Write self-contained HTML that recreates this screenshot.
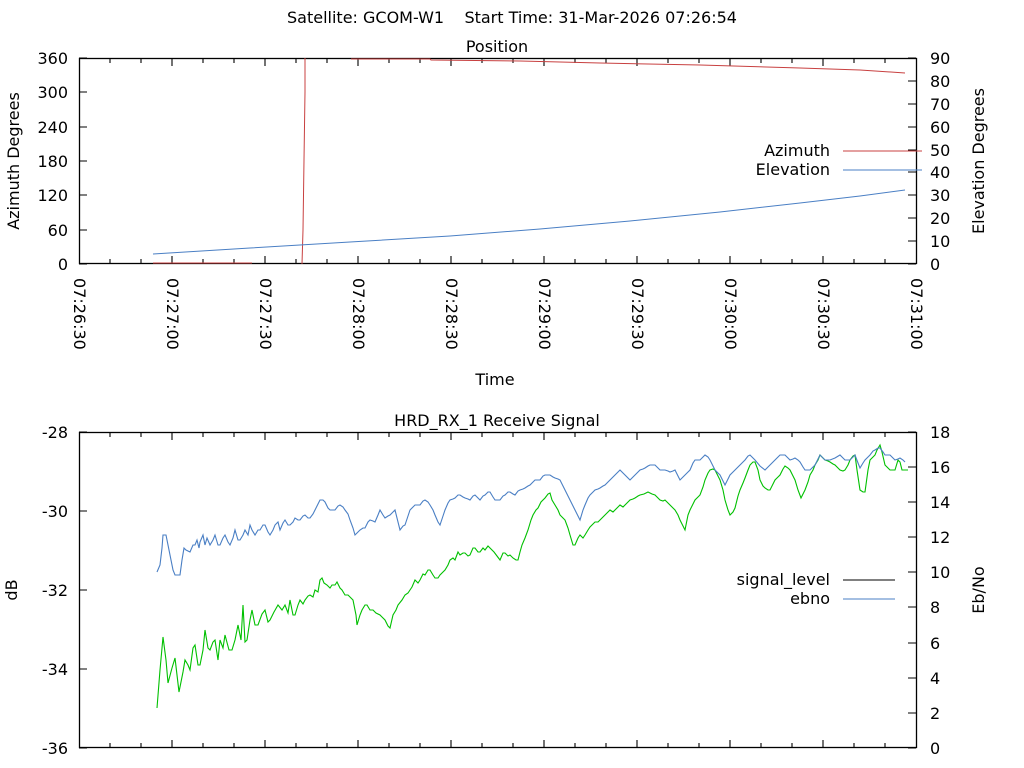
<!DOCTYPE html>
<html><head><meta charset="utf-8"><style>
body{margin:0;background:#fff}
svg{display:block}
text{font-family:"DejaVu Sans","Liberation Sans",sans-serif;font-size:16px;fill:#000}
</style></head><body>
<svg width="1024" height="768" viewBox="0 0 1024 768">
<text x="512" y="23" text-anchor="middle" xml:space="preserve" style="white-space:pre">Satellite: GCOM-W1    Start Time: 31-Mar-2026 07:26:54</text>
<text x="497" y="52" text-anchor="middle">Position</text>
<rect x="79.5" y="58.5" width="837" height="205" fill="none" stroke="#000" stroke-width="1.3"/>
<g stroke="#000" stroke-width="1.1">
<path d="M79 58h8M79 92h8M79 127h8M79 161h8M79 195h8M79 230h8M79 264h8"/>
<path d="M916 58h-8M916 81h-8M916 104h-8M916 127h-8M916 150h-8M916 172h-8M916 195h-8M916 218h-8M916 241h-8M916 264h-8"/>
<path d="M110 264v-5M141 264v-5M172 264v-8M203 264v-5M234 264v-5M265 264v-8M296 264v-5M327 264v-5M358 264v-8M389 264v-5M420 264v-5M451 264v-8M482 264v-5M513 264v-5M544 264v-8M575 264v-5M606 264v-5M637 264v-8M668 264v-5M699 264v-5M730 264v-8M761 264v-5M792 264v-5M823 264v-8M854 264v-5M885 264v-5"/>
<path d="M110 58v5M141 58v5M172 58v8M203 58v5M234 58v5M265 58v8M296 58v5M327 58v5M358 58v8M389 58v5M420 58v5M451 58v8M482 58v5M513 58v5M544 58v8M575 58v5M606 58v5M637 58v8M668 58v5M699 58v5M730 58v8M761 58v5M792 58v5M823 58v8M854 58v5M885 58v5"/>
</g>
<g text-anchor="end">
<text x="68" y="64">360</text><text x="68" y="98">300</text><text x="68" y="133">240</text><text x="68" y="167">180</text><text x="68" y="201">120</text><text x="68" y="236">60</text><text x="68" y="270">0</text>
</g>
<g>
<text x="930" y="64">90</text><text x="930" y="87">80</text><text x="930" y="110">70</text><text x="930" y="133">60</text><text x="930" y="156">50</text><text x="930" y="178">40</text><text x="930" y="201">30</text><text x="930" y="224">20</text><text x="930" y="247">10</text><text x="930" y="270">0</text>
</g>
<text transform="translate(19,161) rotate(-90)" text-anchor="middle">Azimuth Degrees</text>
<text transform="translate(984,161) rotate(-90)" text-anchor="middle">Elevation Degrees</text>
<g>
<text transform="translate(74,278) rotate(90)">07:26:30</text>
<text transform="translate(167,278) rotate(90)">07:27:00</text>
<text transform="translate(260,278) rotate(90)">07:27:30</text>
<text transform="translate(353,278) rotate(90)">07:28:00</text>
<text transform="translate(446,278) rotate(90)">07:28:30</text>
<text transform="translate(539,278) rotate(90)">07:29:00</text>
<text transform="translate(632,278) rotate(90)">07:29:30</text>
<text transform="translate(725,278) rotate(90)">07:30:00</text>
<text transform="translate(818,278) rotate(90)">07:30:30</text>
<text transform="translate(911,278) rotate(90)">07:31:00</text>
</g>
<text x="495" y="385" text-anchor="middle">Time</text>
<polyline fill="none" stroke="#c84040" stroke-width="1" points="153,263 252,263"/>
<polyline fill="none" stroke="#c84040" stroke-width="1" points="302,264 303,230 304,160 305,92 305,58"/>
<polyline fill="none" stroke="#c84040" stroke-width="1" points="351,59 430,59 431,60 520,61 600,63 700,65 800,68 860,70 905,73"/>
<polyline fill="none" stroke="#4a7fc4" stroke-width="1" points="153,254 250,248 350,242 450,236 540,229 630,221 720,212 800,203 860,196 905,190"/>
<text x="830" y="156" text-anchor="end">Azimuth</text>
<line x1="843" y1="151" x2="922" y2="151" stroke="#c84040" stroke-width="1"/>
<text x="830" y="175" text-anchor="end">Elevation</text>
<line x1="843" y1="170" x2="922" y2="170" stroke="#4a7fc4" stroke-width="1"/>
<text x="497" y="426" text-anchor="middle">HRD_RX_1 Receive Signal</text>
<rect x="79.5" y="432.5" width="837" height="315" fill="none" stroke="#000" stroke-width="1.3"/>
<g stroke="#000" stroke-width="1.1">
<path d="M79 432h8M79 511h8M79 590h8M79 669h8M79 748h8"/>
<path d="M916 432h-8M916 467h-8M916 502h-8M916 537h-8M916 572h-8M916 607h-8M916 643h-8M916 678h-8M916 713h-8M916 748h-8"/>
<path d="M110 748v-5M141 748v-5M172 748v-8M203 748v-5M234 748v-5M265 748v-8M296 748v-5M327 748v-5M358 748v-8M389 748v-5M420 748v-5M451 748v-8M482 748v-5M513 748v-5M544 748v-8M575 748v-5M606 748v-5M637 748v-8M668 748v-5M699 748v-5M730 748v-8M761 748v-5M792 748v-5M823 748v-8M854 748v-5M885 748v-5"/>
<path d="M110 432v5M141 432v5M172 432v8M203 432v5M234 432v5M265 432v8M296 432v5M327 432v5M358 432v8M389 432v5M420 432v5M451 432v8M482 432v5M513 432v5M544 432v8M575 432v5M606 432v5M637 432v8M668 432v5M699 432v5M730 432v8M761 432v5M792 432v5M823 432v8M854 432v5M885 432v5"/>
</g>
<g text-anchor="end">
<text x="68" y="438">-28</text><text x="68" y="517">-30</text><text x="68" y="596">-32</text><text x="68" y="675">-34</text><text x="68" y="754">-36</text>
</g>
<g>
<text x="930" y="438">18</text><text x="930" y="473">16</text><text x="930" y="508">14</text><text x="930" y="543">12</text><text x="930" y="578">10</text><text x="930" y="613">8</text><text x="930" y="649">6</text><text x="930" y="684">4</text><text x="930" y="719">2</text><text x="930" y="754">0</text>
</g>
<text transform="translate(17,590) rotate(-90)" text-anchor="middle">dB</text>
<text transform="translate(984,590) rotate(-90)" text-anchor="middle">Eb/No</text>
<polyline fill="none" stroke="#00c000" stroke-width="1.1" points="157,708 160,670 163,637 166,660 168,683 172,668 175,658 179,692 183,672 185,660 188,665 190,670 193,648 195,645 198,665 200,665 203,650 205,630 208,648 210,650 213,642 215,640 218,660 220,640 223,648 225,635 229,650 232,650 235,640 238,625 241,640 243,605 245,642 247,640 250,620 252,610 255,625 258,625 262,614 265,610 268,622 270,620 274,612 278,605 282,610 285,605 288,613 290,600 293,615 295,615 298,605 300,600 303,604 305,600 308,596 310,595 313,597 315,590 318,592 320,580 322,578 324,583 327,585 330,588 332,585 335,585 337,582 340,588 342,590 345,595 348,595 351,598 353,600 356,615 357,625 360,615 362,610 365,605 367,605 370,610 373,610 376,613 380,615 382,617 385,620 388,626 390,628 393,615 396,610 398,605 402,600 405,595 408,593 410,590 412,587 415,580 418,583 420,580 423,574 425,575 428,570 430,570 433,575 435,578 438,578 440,575 443,572 445,570 448,565 450,560 453,558 455,560 458,552 460,555 463,553 465,553 468,556 470,555 473,548 475,548 478,552 480,552 483,548 485,550 488,546 490,548 494,552 497,556 500,560 503,553 505,553 508,556 510,555 513,558 516,560 518,560 520,552 522,545 525,538 528,530 531,520 533,515 536,510 538,508 541,502 545,498 548,494 550,493 552,500 555,505 558,510 560,515 563,518 565,520 568,528 570,535 573,545 575,545 578,538 580,535 583,538 585,535 588,530 590,527 593,524 595,522 598,522 600,520 603,517 605,515 608,512 610,510 613,512 615,510 618,507 620,505 623,507 625,505 628,502 630,500 633,499 635,498 638,496 640,495 644,494 648,492 652,494 655,495 658,498 660,500 663,501 665,500 668,503 670,505 673,508 675,510 678,515 680,520 683,526 685,530 688,515 690,510 693,504 695,500 698,497 700,495 703,487 705,480 708,473 710,470 713,469 715,470 718,476 720,480 723,490 725,500 728,510 730,515 733,512 735,508 738,496 740,490 743,483 745,478 748,470 750,465 753,462 755,462 758,470 760,480 763,486 765,488 768,490 770,490 773,484 775,480 778,477 780,475 783,469 785,466 788,468 790,470 793,476 795,480 798,490 801,498 803,494 805,490 808,482 810,475 813,470 815,465 818,460 820,455 823,458 825,460 828,461 830,462 833,464 835,465 838,468 840,470 843,471 845,470 848,465 850,460 853,456 855,455 857,470 860,490 863,492 865,492 868,470 870,460 873,457 875,455 877,450 880,445 882,452 885,465 888,468 890,470 893,470 895,470 898,460 900,462 902,470 905,470 908,470"/>
<polyline fill="none" stroke="#4a7fc4" stroke-width="1.1" points="157,572 160,565 162,548 163,535 166,535 168,545 171,560 173,570 175,575 178,575 180,575 182,560 184,548 186,550 190,552 193,545 195,545 197,540 199,548 200,542 203,535 205,545 207,538 210,545 213,540 215,535 218,545 220,545 223,538 225,535 228,542 230,545 233,538 235,530 238,540 240,540 243,535 245,530 248,535 250,525 252,530 255,535 258,530 260,530 263,525 265,525 268,532 270,535 273,530 275,525 278,522 280,530 283,523 285,520 288,525 290,525 293,522 295,518 298,520 300,520 303,516 305,515 308,518 310,518 313,514 315,510 318,504 320,500 323,500 325,502 328,508 330,510 333,510 335,510 338,506 340,505 343,507 345,510 348,514 350,520 353,528 355,535 358,532 360,530 363,528 365,528 368,522 370,520 373,521 375,522 378,515 380,510 383,515 385,518 388,516 390,515 393,512 395,510 398,522 400,530 403,526 405,525 408,516 410,510 413,507 415,505 418,505 420,505 423,501 425,500 428,502 430,505 433,510 435,515 438,522 440,525 443,516 445,510 448,503 450,500 453,499 455,498 458,495 460,495 463,497 465,498 468,499 470,500 473,496 475,495 478,498 480,500 483,496 485,495 488,492 490,492 493,497 495,500 498,500 500,500 503,496 505,495 508,492 510,492 513,494 515,495 518,491 520,490 523,489 525,488 528,486 530,485 533,482 535,480 538,480 540,480 543,476 545,475 548,475 550,475 553,477 555,478 558,479 560,480 563,486 565,490 568,496 570,500 573,506 575,510 578,516 580,520 583,510 585,505 588,498 590,495 593,492 595,490 598,489 600,488 603,486 605,485 608,482 610,480 613,477 615,475 618,472 620,470 623,473 625,475 628,478 630,480 633,477 635,475 638,472 640,470 643,469 645,468 648,466 650,465 653,465 655,465 658,468 660,470 663,470 665,470 668,471 670,472 673,471 675,470 678,476 680,480 683,477 685,475 688,472 690,470 693,463 695,460 698,460 700,460 703,457 705,455 708,457 710,460 713,466 715,470 718,473 720,475 723,481 725,485 728,479 730,475 733,472 735,470 738,467 740,465 743,462 745,460 748,456 750,455 753,458 755,460 760,466 765,470 768,467 770,465 773,462 775,460 778,457 780,455 783,455 785,455 788,458 790,460 793,459 795,458 798,460 800,462 803,467 805,470 808,470 810,470 813,467 815,465 818,459 820,455 823,458 825,460 828,460 830,460 835,458 840,455 843,458 845,460 848,460 850,460 853,457 855,455 858,463 860,468 863,463 865,460 868,457 870,455 873,451 875,450 878,448 880,448 883,452 885,455 888,455 890,455 893,458 895,460 898,459 900,458 903,460 905,462"/>
<text x="830" y="585" text-anchor="end">signal_level</text>
<line x1="843" y1="580" x2="895" y2="580" stroke="#000" stroke-width="1"/>
<text x="830" y="604" text-anchor="end">ebno</text>
<line x1="843" y1="599" x2="895" y2="599" stroke="#4a7fc4" stroke-width="1"/>
</svg>
</body></html>
